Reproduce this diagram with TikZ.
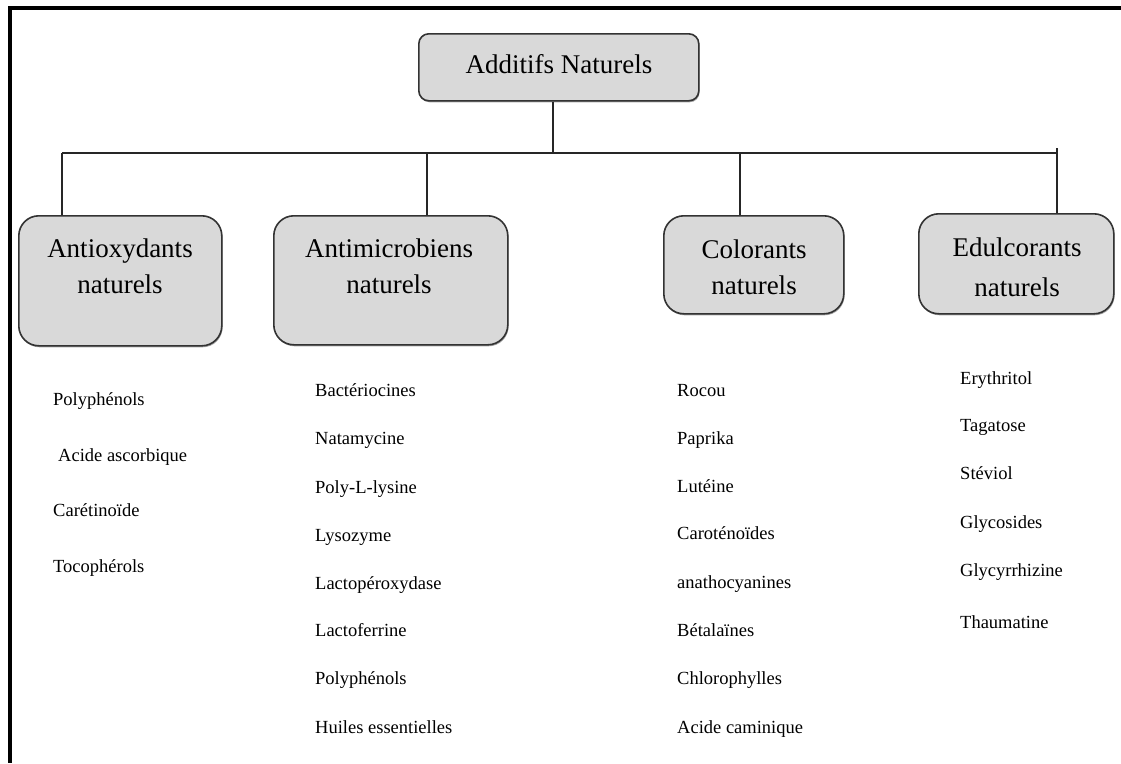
\documentclass[tikz,border=0pt]{standalone}
\usepackage{fontspec}
\setmainfont{Liberation Serif}
\usetikzlibrary{shadows}
\definecolor{boxfill}{HTML}{D9D9D9}
\definecolor{boxline}{HTML}{333333}
\begin{document}
\begin{tikzpicture}[x=1pt,y=-1pt,
  rootbox/.style={draw=boxline, line width=1.6pt, fill=boxfill, rounded corners=10pt,
    drop shadow={shadow xshift=0.8pt, shadow yshift=-1.5pt, fill=black!60, opacity=0.6},
    inner sep=0pt, anchor=north west},
  catbox/.style={draw=boxline, line width=1.6pt, fill=boxfill, rounded corners=20pt,
    drop shadow={shadow xshift=0.8pt, shadow yshift=-1.5pt, fill=black!60, opacity=0.6},
    inner sep=0pt, anchor=north west},
  headtext/.style={font=\fontsize{27}{36}\selectfont, align=center, inner sep=0pt},
  itemtext/.style={font=\fontsize{18.5}{22}\selectfont, anchor=base west, inner sep=0pt},
  conn/.style={line width=1.4pt, draw=black!85}
]
\useasboundingbox (0,0) rectangle (1121,763);
% frame
\fill[black] (8,6) rectangle (1121,10);
\fill[black] (8,6) rectangle (12,763);

% root
\node[rootbox, minimum width=280pt, minimum height=67pt] (root) at (418,33) {};
\node[headtext] (roottxt) at (559,64) {Additifs Naturels};

% categories
\node[catbox, minimum width=203pt, minimum height=130pt] (anti) at (18,215) {};
\node[headtext] (antitxt) at (120,266) {Antioxydants\\naturels};

\node[catbox, minimum width=234pt, minimum height=129pt] (amic) at (273,215) {};
\node[headtext] (amictxt) at (389,266) {Antimicrobiens\\naturels};

\node[catbox, minimum width=180pt, minimum height=98pt] (colo) at (663,215) {};
\node[headtext] (colotxt) at (754,267) {Colorants\\naturels};

\node[catbox, minimum width=195pt, minimum height=100pt] (edul) at (918,213) {};
\node[headtext] (edultxt) at (1017,267) {Edulcorants\\[4pt]naturels};

% connectors
\coordinate (barL) at (62,153);
\coordinate (barR) at (1057,153);
\coordinate (jroot) at (553,153);
\coordinate (jamic) at (427,153);
\coordinate (jcolo) at (740,153);
\coordinate (jedul) at (1057,148);
\draw[conn] (barL) -- (barR);
\draw[conn] (root.south -| jroot) -- (jroot);
\draw[conn] (barL) -- (barL |- anti.north);
\draw[conn] (jamic) -- (jamic |- amic.north);
\draw[conn] (jcolo) -- (jcolo |- colo.north);
\draw[conn] (jedul) -- (jedul |- edul.north);

% lists
\node[itemtext] (a1) at (53,405) {Polyphénols};
\node[itemtext] (a2) at (58,461) {Acide ascorbique};
\node[itemtext] (a3) at (53,516) {Carétinoïde};
\node[itemtext] (a4) at (53,572) {Tocophérols};

\node[itemtext] (m1) at (315,396) {Bactériocines};
\node[itemtext] (m2) at (315,444) {Natamycine};
\node[itemtext] (m3) at (315,493) {Poly-L-lysine};
\node[itemtext] (m4) at (315,541) {Lysozyme};
\node[itemtext] (m5) at (315,589) {Lactopéroxydase};
\node[itemtext] (m6) at (315,636) {Lactoferrine};
\node[itemtext] (m7) at (315,684) {Polyphénols};
\node[itemtext] (m8) at (315,733) {Huiles essentielles};

\node[itemtext] (c1) at (677,396) {Rocou};
\node[itemtext] (c2) at (677,444) {Paprika};
\node[itemtext] (c3) at (677,492) {Lutéine};
\node[itemtext] (c4) at (677,539) {Caroténoïdes};
\node[itemtext] (c5) at (677,588) {anathocyanines};
\node[itemtext] (c6) at (677,636) {Bétalaïnes};
\node[itemtext] (c7) at (677,684) {Chlorophylles};
\node[itemtext] (c8) at (677,733) {Acide caminique};

\node[itemtext] (e1) at (960,384) {Erythritol};
\node[itemtext] (e2) at (960,431) {Tagatose};
\node[itemtext] (e3) at (960,479) {Stéviol};
\node[itemtext] (e4) at (960,528) {Glycosides};
\node[itemtext] (e5) at (960,576) {Glycyrrhizine};
\node[itemtext] (e6) at (960,628) {Thaumatine};
\end{tikzpicture}
\end{document}
